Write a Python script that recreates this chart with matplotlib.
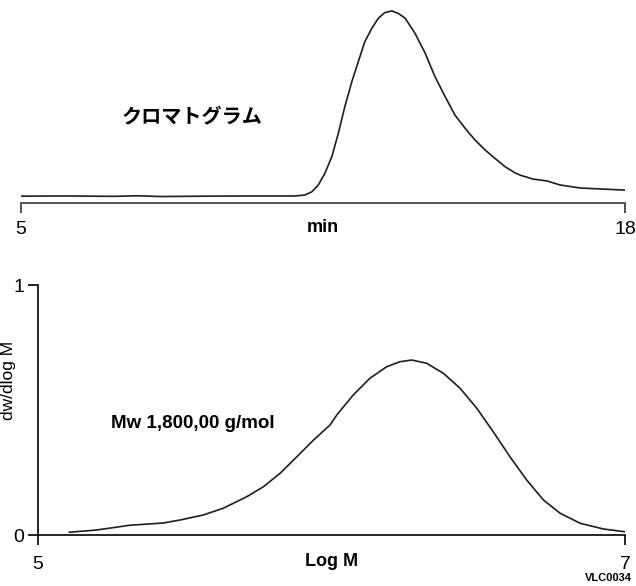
import matplotlib.pyplot as plt

# chromatogram (retention time in min, detector signal)
rt_min = [5.0, 6.0, 7.0, 7.5, 8.0, 9.0, 10.0, 10.5, 10.9, 11.11, 11.26, 11.40, 11.54,
          11.69, 11.83, 11.97, 12.12, 12.26, 12.40, 12.55, 12.69, 12.83, 12.98,
          13.12, 13.27, 13.48, 13.70, 13.91, 14.13, 14.34, 14.56, 14.77, 14.99,
          15.20, 15.42, 15.63, 15.74, 16.02, 16.32, 16.60, 17.03, 17.46, 18.0]
signal = [0.036, 0.037, 0.035, 0.038, 0.034, 0.036, 0.037, 0.037, 0.037, 0.042,
          0.059, 0.095, 0.156, 0.244, 0.367, 0.507, 0.638, 0.744, 0.849, 0.919,
          0.972, 1.002, 1.011, 0.998, 0.972, 0.893, 0.788, 0.665, 0.559, 0.463,
          0.393, 0.332, 0.279, 0.235, 0.191, 0.159, 0.147, 0.126, 0.116, 0.095,
          0.079, 0.074, 0.068]

# molecular weight distribution
log_m = [5.107, 5.2, 5.313, 5.427, 5.484, 5.563, 5.631, 5.711, 5.768, 5.825,
         5.882, 5.939, 5.995, 6.018, 6.074, 6.131, 6.188, 6.233, 6.273, 6.324,
         6.381, 6.438, 6.495, 6.551, 6.608, 6.665, 6.722, 6.779, 6.847, 6.926, 7.0]
dwdlogm = [0.011, 0.020, 0.039, 0.048, 0.060, 0.080, 0.107, 0.153, 0.193, 0.247,
           0.313, 0.380, 0.440, 0.480, 0.560, 0.627, 0.673, 0.693, 0.700, 0.687,
           0.647, 0.587, 0.507, 0.413, 0.313, 0.220, 0.140, 0.087, 0.047, 0.024, 0.013]

cond = ['Liberation Sans', 'DejaVu Sans']

fig = plt.figure(figsize=(6.36, 5.86), dpi=100)

# top: chromatogram
ax1 = fig.add_axes([21/636, 1 - 203/586, 604/636, 203/586])
ax1.plot(rt_min, signal, color='#1e1e1e', lw=1.2)
ax1.set_xlim(5, 18)
ax1.set_ylim(0, 203/190)
for s in ['top', 'right', 'left']:
    ax1.spines[s].set_visible(False)
ax1.spines['bottom'].set_color('#555555')
ax1.spines['bottom'].set_linewidth(1.4)
ax1.set_yticks([])
ax1.set_xticks([5, 18])
ax1.tick_params(axis='x', direction='out', length=7, width=1.2, color='#333333', pad=6)
for lab in ax1.get_xticklabels():
    lab.set_family(cond)
    lab.set_fontsize(14)
ax1.set_xlabel('min', family=cond, fontsize=13, fontweight='bold', labelpad=-14)
ax1.text((192 - 21)/604, 1 - 117/203, 'クロマトグラム', transform=ax1.transAxes,
         family=['Noto Sans CJK JP', 'DejaVu Sans'], fontweight='bold', fontsize=14.5,
         ha='center', va='center')

# bottom: distribution
ax2 = fig.add_axes([38/636, 1 - 535/586, 587/636, 250/586])
ax2.plot(log_m, dwdlogm, color='#1e1e1e', lw=1.2)
ax2.set_xlim(5, 7)
ax2.set_ylim(0, 1)
for s in ['top', 'right']:
    ax2.spines[s].set_visible(False)
ax2.spines['left'].set_linewidth(1.2)
ax2.spines['bottom'].set_linewidth(1.2)
ax2.set_xticks([5, 7])
ax2.set_yticks([0, 1])
ax2.tick_params(direction='out', length=7, width=1.2, pad=3)
ax2.tick_params(axis='x', pad=8)
for lab in ax2.get_xticklabels() + ax2.get_yticklabels():
    lab.set_family(cond)
    lab.set_fontsize(14)
ax2.set_xlabel('Log M', family=cond, fontsize=13, fontweight='bold', labelpad=-14)
ax2.set_ylabel('dw/dlog M', family=cond, fontsize=12.5)
ax2.yaxis.set_label_coords((16 - 38)/587, (535 - 380)/250)
ax2.text((193 - 38)/587, (535 - 424)/250, 'Mw 1,800,00 g/mol', transform=ax2.transAxes,
         family=cond, fontweight='bold', fontsize=13.5, ha='center', va='center')

fig.text(632/636, 1 - 578/586, 'VLC0034', family=cond, fontsize=8, fontweight='bold',
         ha='right', va='center')

fig.savefig('out.png', dpi=100)
